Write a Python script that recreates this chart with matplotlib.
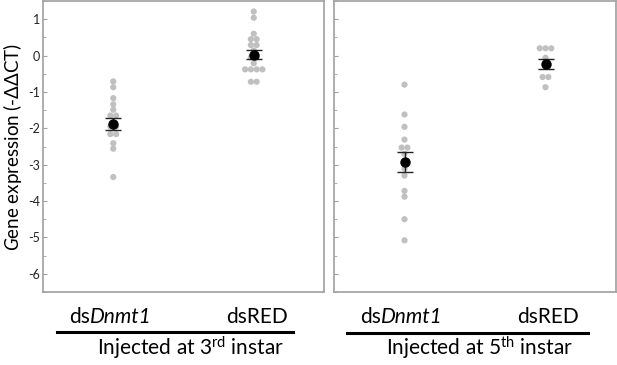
import numpy as np
import matplotlib
matplotlib.use("Agg")
import matplotlib.pyplot as plt
from matplotlib.ticker import MultipleLocator

plt.rcParams['font.family'] = ['Lato', 'DejaVu Sans']
plt.rcParams['mathtext.fontset'] = 'custom'
plt.rcParams['mathtext.rm'] = 'Lato'
plt.rcParams['mathtext.it'] = 'Lato:italic'

# ---- data ----
groups = ["dsDnmt1", "dsRED"]
panel_titles = ["Injected at 3$^{\\mathrm{rd}}$ instar", "Injected at 5$^{\\mathrm{th}}$ instar"]

p1_dnmt1 = [-0.71, -0.87, -1.17, -1.34, -1.49, -1.65, -1.65, -1.85, -1.95, -1.95,
            -2.16, -2.16, -2.41, -2.56, -3.34]
p1_dsred = [1.21, 1.04, 0.60, 0.45, 0.45, 0.29, 0.29, 0.14, -0.05, -0.05, -0.21,
            -0.38, -0.38, -0.38, -0.38, -0.72, -0.72]
p2_dnmt1 = [-0.80, -1.62, -1.96, -2.31, -2.53, -2.53, -2.70, -3.11, -3.30, -3.72,
            -3.88, -4.50, -5.08]
p2_dsred = [0.20, 0.20, 0.20, -0.06, -0.25, -0.59, -0.59, -0.87]

means = [[-1.88, 0.02], [-2.93, -0.23]]
sems = [[0.17, 0.125], [0.28, 0.13]]

yticks = [1, 0, -1, -2, -3, -4, -5, -6]

panels = [[p1_dnmt1, p1_dsred], [p2_dnmt1, p2_dsred]]

W, H = 617, 365
fig = plt.figure(figsize=(W / 100, H / 100), dpi=100)
renderer = fig.canvas.get_renderer()

ax_boxes = [(43, 324), (334, 616)]
top_px, bot_px = 1, 292
spine_col = '#a0a0a0'

def swarm_offsets(vals, spacing=0.041):
    vals = np.asarray(vals)
    offs = np.zeros(len(vals))
    for v in np.unique(vals):
        idx = np.where(vals == v)[0]
        n = len(idx)
        offs[idx] = (np.arange(n) - (n - 1) / 2) * spacing
    return offs

def mixed_label(xc_px, yc_px, parts, size):
    # parts: list of (text, style); centred as a whole at (xc_px, yc_px)
    widths = []
    for t, st in parts:
        tt = fig.text(0, 0, t, fontsize=size, style=st)
        widths.append(tt.get_window_extent(renderer).width)
        tt.remove()
    x = xc_px - sum(widths) / 2
    for (t, st), w in zip(parts, widths):
        fig.text(x / W, 1 - yc_px / H, t, fontsize=size, style=st,
                 ha='left', va='center')
        x += w

for pi, (x0, x1) in enumerate(ax_boxes):
    ax = fig.add_axes([x0 / W, 1 - bot_px / H, (x1 - x0) / W, (bot_px - top_px) / H])
    ax.set_xlim(0.5, 2.5)
    ax.set_ylim(-6.5, 1.5)
    for s in ax.spines.values():
        s.set_color(spine_col)
        s.set_linewidth(1.2)
    ax.set_xticks([])
    ax.yaxis.set_major_locator(MultipleLocator(1))
    ax.yaxis.set_minor_locator(MultipleLocator(0.5))
    ax.tick_params(axis='y', which='major', direction='in', length=3, width=0.8,
                   color=spine_col, labelsize=9, pad=2, labelcolor='#222222')
    ax.tick_params(axis='y', which='minor', direction='in', length=2, width=0.6,
                   color=spine_col)
    ax.set_yticks(yticks)
    if pi == 0:
        ax.set_yticklabels([str(t) for t in yticks])
        ax.set_ylabel("$\\it{G}$ene expression (-ΔΔCT)", fontsize=13.5, labelpad=3)
    else:
        ax.set_yticklabels([])
    for gi, vals in enumerate(panels[pi]):
        xs = gi + 1 + swarm_offsets(vals)
        ax.scatter(xs, vals, s=20, color='#c0c0c0', edgecolors='none', zorder=2)
        ax.errorbar([gi + 1], [means[pi][gi]], yerr=[sems[pi][gi]], fmt='o',
                    color='black', markersize=6.5, ecolor='#222222', elinewidth=1,
                    capsize=6, capthick=1, zorder=3)

# group labels under the panels
for pi, (x0, x1) in enumerate(ax_boxes):
    w = x1 - x0
    for gi, g in enumerate(groups):
        xc = x0 + w * (0.25 + 0.5 * gi) + (-3 if gi == 0 else 3)
        if g == "dsDnmt1":
            mixed_label(xc, 317, [("ds", 'normal'), ("Dnmt1", 'italic')], 15)
        else:
            mixed_label(xc, 317, [(g, 'normal')], 15)

lines = [(57, 293, 332), (347, 588, 333)]
title_x = [191, 479]
for (lx0, lx1, ly), title, tx in zip(lines, panel_titles, title_x):
    fig.add_artist(plt.Line2D([lx0 / W, lx1 / W], [1 - ly / H, 1 - ly / H],
                              color='black', linewidth=2.2))
    fig.text(tx / W, 1 - 348 / H, title, ha='center', va='center', fontsize=15)

fig.savefig("out.png", dpi=100)
